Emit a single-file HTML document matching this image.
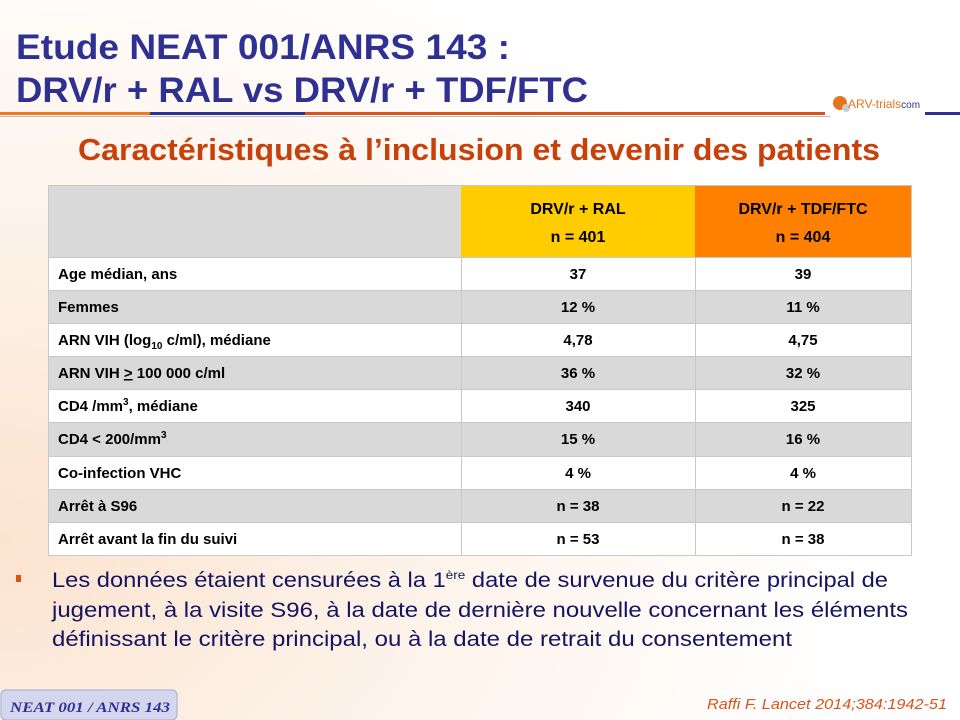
<!DOCTYPE html>
<html><head><meta charset="utf-8"><style>
body{margin:0;width:960px;height:720px;overflow:hidden;background:#fff}
svg{display:block}
</style></head><body>
<svg width="960" height="720" xmlns="http://www.w3.org/2000/svg" font-family="Liberation Sans, sans-serif">
<defs>
<radialGradient id="bg" cx="0" cy="0.75" r="0.9">
<stop offset="0" stop-color="#fbe3cf"/><stop offset="0.5" stop-color="#fdf3ea"/><stop offset="1" stop-color="#ffffff"/>
</radialGradient>
</defs>
<rect width="960" height="720" fill="url(#bg)"/>
<g font-weight="bold" fill="#2e3192" font-size="35">
<text x="16" y="59" textLength="494" lengthAdjust="spacingAndGlyphs">Etude NEAT 001/ANRS 143 :</text>
<text x="16" y="102" textLength="572" lengthAdjust="spacingAndGlyphs">DRV/r + RAL vs DRV/r + TDF/FTC</text>
</g>
<rect x="0" y="112" width="150" height="3" fill="#f07a1a"/>
<rect x="150" y="112" width="155" height="3" fill="#2e3192"/>
<rect x="305" y="112" width="520" height="3" fill="#d9541a"/>
<rect x="0" y="116" width="830" height="1" fill="#bbb"/>
<rect x="925" y="112" width="35" height="3" fill="#2e3192"/>
<circle cx="840" cy="103" r="7" fill="#e8741c"/>
<circle cx="846" cy="108" r="4" fill="#ccc"/>
<text x="848" y="108" font-size="12" fill="#e8741c">ARV-trials<tspan fill="#2e3192" font-size="10">com</tspan></text>
<text x="78" y="160" font-size="31" font-weight="bold" fill="#c8410a" textLength="802" lengthAdjust="spacingAndGlyphs">Caractéristiques à l’inclusion et devenir des patients</text>
<g>
<rect x="48" y="185" width="413" height="72" fill="#d9d9d9"/>
<rect x="461" y="185" width="234" height="72" fill="#ffcc00"/>
<rect x="695" y="185" width="217" height="72" fill="#ff8000"/>
<g fill="#fff">
<rect x="48" y="257" width="864" height="33"/>
<rect x="48" y="290" width="864" height="33" fill="#d9d9d9"/>
<rect x="48" y="323" width="864" height="33"/>
<rect x="48" y="356" width="864" height="33" fill="#d9d9d9"/>
<rect x="48" y="389" width="864" height="33"/>
<rect x="48" y="422" width="864" height="34" fill="#d9d9d9"/>
<rect x="48" y="456" width="864" height="33"/>
<rect x="48" y="489" width="864" height="33" fill="#d9d9d9"/>
<rect x="48" y="522" width="864" height="34"/>
</g>
<g stroke="#c8c8c8" stroke-width="1" fill="none">
<rect x="48.5" y="185.5" width="863" height="370"/>
<line x1="461.5" y1="257" x2="461.5" y2="556"/>
<line x1="695.5" y1="257" x2="695.5" y2="556"/>
<path d="M48 257.5H912M48 290.5H912M48 323.5H912M48 356.5H912M48 389.5H912M48 422.5H912M48 456.5H912M48 489.5H912M48 522.5H912"/>
</g>
<g font-size="16" font-weight="bold" fill="#000" text-anchor="middle">
<text x="578" y="214">DRV/r + RAL</text><text x="578" y="242">n = 401</text>
<text x="803" y="214">DRV/r + TDF/FTC</text><text x="803" y="242">n = 404</text>
</g>
<g font-size="15" font-weight="bold" fill="#000">
<text x="58" y="279">Age médian, ans</text>
<text x="58" y="312">Femmes</text>
<text x="58" y="345">ARN VIH (log<tspan font-size="10" dy="4">10</tspan><tspan dy="-4"> c/ml), médiane</tspan></text>
<text x="58" y="378">ARN VIH <tspan text-decoration="underline">&gt;</tspan> 100 000 c/ml</text>
<text x="58" y="411">CD4 /mm<tspan font-size="10" dy="-6">3</tspan><tspan dy="6">, médiane</tspan></text>
<text x="58" y="444">CD4 &lt; 200/mm<tspan font-size="10" dy="-6">3</tspan></text>
<text x="58" y="478">Co-infection VHC</text>
<text x="58" y="511">Arrêt à S96</text>
<text x="58" y="544">Arrêt avant la fin du suivi</text>
<g text-anchor="middle">
<text x="578" y="279">37</text><text x="803" y="279">39</text>
<text x="578" y="312">12 %</text><text x="803" y="312">11 %</text>
<text x="578" y="345">4,78</text><text x="803" y="345">4,75</text>
<text x="578" y="378">36 %</text><text x="803" y="378">32 %</text>
<text x="578" y="411">340</text><text x="803" y="411">325</text>
<text x="578" y="444">15 %</text><text x="803" y="444">16 %</text>
<text x="578" y="478">4 %</text><text x="803" y="478">4 %</text>
<text x="578" y="511">n = 38</text><text x="803" y="511">n = 22</text>
<text x="578" y="544">n = 53</text><text x="803" y="544">n = 38</text>
</g>
</g>
</g>
<rect x="16" y="575" width="5" height="7" fill="#d9541a"/>
<g font-size="21" fill="#141460">
<text x="52" y="587" textLength="836" lengthAdjust="spacingAndGlyphs">Les données étaient censurées à la 1<tspan font-size="12" dy="-8">ère</tspan><tspan dy="8"> date de survenue du critère principal de</tspan></text>
<text x="52" y="617" textLength="856" lengthAdjust="spacingAndGlyphs">jugement, à la visite S96, à la date de dernière nouvelle concernant les éléments</text>
<text x="52" y="646" textLength="740" lengthAdjust="spacingAndGlyphs">définissant le critère principal, ou à la date de retrait du consentement</text>
</g>
<rect x="1" y="690" width="176" height="30" rx="5" fill="#d4d6ee" stroke="#a8aad0"/>
<text x="10" y="712" font-family="Liberation Serif, serif" font-style="italic" font-weight="bold" font-size="15" fill="#2e3192" textLength="160" lengthAdjust="spacingAndGlyphs">NEAT 001 / ANRS 143</text>
<text x="947" y="709" text-anchor="end" font-size="15" font-style="italic" fill="#d9541a" textLength="240" lengthAdjust="spacingAndGlyphs">Raffi F. Lancet 2014;384:1942-51</text>
</svg>
</body></html>
